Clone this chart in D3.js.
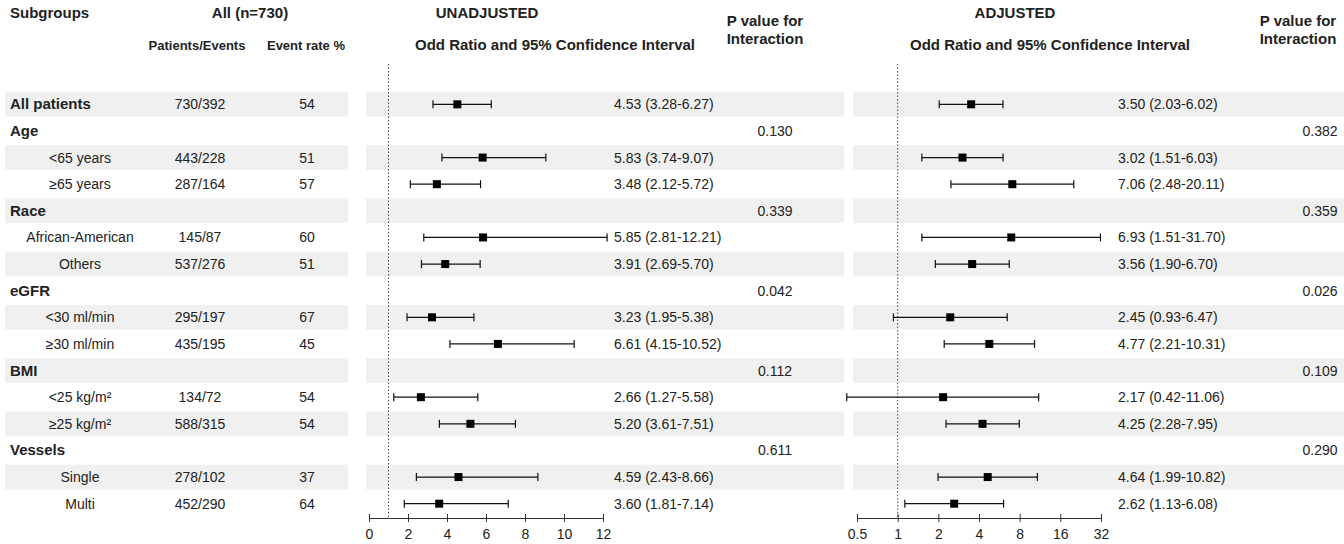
<!DOCTYPE html>
<html><head><meta charset="utf-8">
<script src="https://cdn.jsdelivr.net/npm/d3@7"></script>
<style>body{margin:0;background:#fff}text{font-family:"Liberation Sans",Arial,sans-serif;font-size:14px;fill:#222}</style>
</head><body><div id="viz"></div>
<script>
var labels = ["All patients","Age","<65 years","≥65 years","Race","African-American","Others","eGFR","<30 ml/min","≥30 ml/min","BMI","<25 kg/m²","≥25 kg/m²","Vessels","Single","Multi"];
var isHeader = [1,1,0,0,1,0,0,1,0,0,1,0,0,1,0,0];
var patients = ["730/392","","443/228","287/164","","145/87","537/276","","295/197","435/195","","134/72","588/315","","278/102","452/290"];
var rates = ["54","","51","57","","60","51","","67","45","","54","54","","37","64"];
// unadjusted OR [est, lo, hi]
var unadj = [[4.53,3.28,6.27],null,[5.83,3.74,9.07],[3.48,2.12,5.72],null,[5.85,2.81,12.21],[3.91,2.69,5.70],null,[3.23,1.95,5.38],[6.61,4.15,10.52],null,[2.66,1.27,5.58],[5.20,3.61,7.51],null,[4.59,2.43,8.66],[3.60,1.81,7.14]];
var adj = [[3.50,2.03,6.02],null,[3.02,1.51,6.03],[7.06,2.48,20.11],null,[6.93,1.51,31.70],[3.56,1.90,6.70],null,[2.45,0.93,6.47],[4.77,2.21,10.31],null,[2.17,0.42,11.06],[4.25,2.28,7.95],null,[4.64,1.99,10.82],[2.62,1.13,6.08]];
var pUnadj = ["","0.130","","","0.339","","","0.042","","","0.112","","","0.611","",""];
var pAdj = ["","0.382","","","0.359","","","0.026","","","0.109","","","0.290","",""];
var unadjTicks = [0,2,4,6,8,10,12];
var adjTicks = [0.5,1,2,4,8,16,32];

var svg = d3.select("#viz").append("svg").attr("width",1344).attr("height",544);
var y = d3.scaleBand().domain(d3.range(labels.length)).range([91,517]);
var xu = d3.scaleLinear().domain([0,12]).range([369,603]);
var xa = d3.scaleLog().base(2).domain([0.5,32]).range([857,1101]);
var fmt = function(d){ return d[0].toFixed(2)+" ("+d[1].toFixed(2)+"-"+d[2].toFixed(2)+")"; };

// shading
labels.forEach(function(l,i){
  if (i%2) return;
  [[5,348],[366,844],[853,1344]].forEach(function(s){
    svg.append("rect").attr("x",s[0]).attr("y",y(i)+1).attr("width",s[1]-s[0]).attr("height",y.bandwidth()-2).attr("fill","#f0f0f0");
  });
});

function hdr(x,yy,t,anchor){ svg.append("text").attr("x",x).attr("y",yy).attr("text-anchor",anchor||"middle").attr("font-weight","bold").style("font-size","15px").text(t); }
hdr(10,18,"Subgroups","start"); hdr(250,18,"All (n=730)");
svg.append("text").attr("x",197).attr("y",50).attr("text-anchor","middle").attr("font-weight","bold").style("font-size","13px").text("Patients/Events");
svg.append("text").attr("x",306).attr("y",50).attr("text-anchor","middle").attr("font-weight","bold").style("font-size","13px").text("Event rate %");
hdr(487,18,"UNADJUSTED"); hdr(555,50,"Odd Ratio and 95% Confidence Interval");
hdr(765,26,"P value for"); hdr(765,44,"Interaction");
hdr(1015,18,"ADJUSTED"); hdr(1050,50,"Odd Ratio and 95% Confidence Interval");
hdr(1298,26,"P value for"); hdr(1298,44,"Interaction");

labels.forEach(function(l,i){
  var cy = y(i)+y.bandwidth()/2+5;
  if (isHeader[i]) svg.append("text").attr("x",10).attr("y",cy).attr("font-weight","bold").style("font-size","15px").text(l);
  else svg.append("text").attr("x",80).attr("y",cy).attr("text-anchor","middle").text(l);
  svg.append("text").attr("x",200).attr("y",cy).attr("text-anchor","middle").text(patients[i]);
  svg.append("text").attr("x",307).attr("y",cy).attr("text-anchor","middle").text(rates[i]);
  svg.append("text").attr("x",775).attr("y",cy).attr("text-anchor","middle").text(pUnadj[i]);
  svg.append("text").attr("x",1320).attr("y",cy).attr("text-anchor","middle").text(pAdj[i]);
});

function forest(data, x, textX){
  var g = svg.append("g");
  g.append("line").attr("x1",x(1)).attr("x2",x(1)).attr("y1",64).attr("y2",518).attr("stroke","#444").attr("stroke-dasharray","1.5,2");
  data.forEach(function(d,i){
    if (!d) return;
    var cy = y(i)+y.bandwidth()/2;
    g.append("line").attr("x1",x(d[1])).attr("x2",x(d[2])).attr("y1",cy).attr("y2",cy).attr("stroke","#111").attr("stroke-width",1.2);
    [d[1],d[2]].forEach(function(v){ g.append("line").attr("x1",x(v)).attr("x2",x(v)).attr("y1",cy-4).attr("y2",cy+4).attr("stroke","#111").attr("stroke-width",1.2); });
    g.append("rect").attr("x",x(d[0])-4).attr("y",cy-4).attr("width",8).attr("height",8).attr("fill","#000");
    g.append("text").attr("x",textX).attr("y",cy+5).text(fmt(d));
  });
}
forest(unadj, xu, 614);
forest(adj, xa, 1118);

function axisOf(x, ticks){
  var a = svg.append("g").attr("transform","translate(0,518)")
    .call(d3.axisBottom(x).tickValues(ticks).tickFormat(function(d){return d;}).tickSize(5).tickSizeOuter(0));
  a.selectAll("text").style("font-size","14px").attr("dy","0.9em");
  a.selectAll("line,path").attr("stroke","#333");
  a.selectAll(".tick line").attr("y1",-4).attr("y2",4);
}
axisOf(xu, unadjTicks);
axisOf(xa, adjTicks);
</script></body></html>
